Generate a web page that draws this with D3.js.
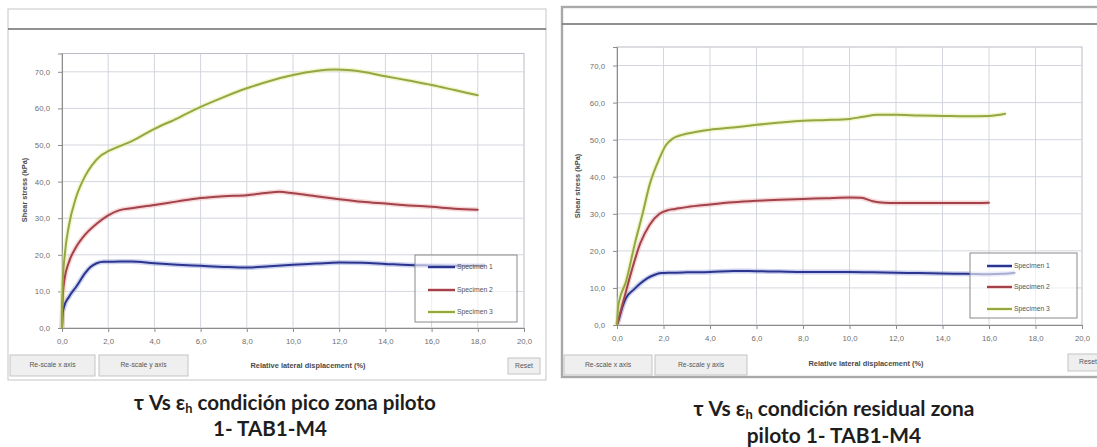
<!DOCTYPE html>
<html>
<head>
<meta charset="utf-8">
<script src="https://cdn.jsdelivr.net/npm/d3@7"></script>
<style>
  html, body { margin: 0; padding: 0; background: #fff; }
  svg { display: block; }
</style>
</head>
<body>
<svg id="fig" width="1097" height="447"></svg>
<script>
// ---- data ----
const xTickValues = [0, 2, 4, 6, 8, 10, 12, 14, 16, 18, 20];
const yTickValues = [0, 10, 20, 30, 40, 50, 60, 70];
const specimenNames = ["Specimen 1", "Specimen 2", "Specimen 3"];
const buttonLabels = ["Re-scale x axis", "Re-scale y axis", "Reset"];
const xAxisTitle = "Relative lateral displacement (%)";
const yAxisTitle = "Shear stress (kPa)";

// peak condition: [displacement %, shear stress kPa]
const peakSpecimen1 = [[0,0],[0.03,4],[0.1,6],[0.3,8.5],[0.63,11.4],[1.0,15],[1.22,16.6],[1.5,17.7],[1.8,18.1],[2,18.1],[3,18.2],[4,17.7],[5,17.3],[6,17.0],[7,16.7],[8,16.5],[9,16.9],[10,17.3],[11,17.6],[12,17.9],[13,17.8],[14,17.5],[15,17.2],[16,17.1],[17,17.0],[18.3,17.1]];
const peakSpecimen2 = [[0,0],[0.03,8],[0.1,13],[0.3,18],[0.6,22],[1.0,25.5],[1.5,28.5],[2,30.8],[2.5,32.2],[3,32.7],[4,33.6],[5,34.6],[6,35.5],[7,36.0],[8,36.3],[9,37.0],[9.4,37.2],[10,36.8],[11,36.0],[12,35.2],[13,34.5],[14,34.0],[15,33.5],[16,33.1],[17,32.6],[18,32.3]];
const peakSpecimen3 = [[0,0],[0.03,12],[0.12,20],[0.3,28],[0.6,35.5],[1.0,41.5],[1.3,44.5],[1.7,47.2],[2,48.3],[2.5,49.7],[3,51],[4,54.4],[5,57.3],[6,60.4],[7,63.1],[8,65.5],[9,67.5],[10,69.1],[11,70.2],[11.8,70.6],[12.5,70.4],[13,70.0],[14,68.8],[15,67.6],[16,66.4],[17,65.0],[18,63.6]];

// residual condition
const residualSpecimen1 = [[0,0],[0.1,2],[0.24,5],[0.38,7.2],[0.73,9.6],[1.0,11.2],[1.3,12.6],[1.6,13.5],[1.9,14.0],[2.3,14.1],[3,14.2],[4,14.3],[5,14.6],[6,14.5],[7,14.4],[8,14.3],[9,14.3],[10,14.3],[11,14.2],[12,14.1],[13,14.0],[14,13.9],[15,13.8],[16,13.7],[16.6,13.8],[17.1,14.1]];
const residualSpecimen2 = [[0,0],[0.3,7],[0.6,14],[1.0,22],[1.4,27],[1.83,30],[2.2,31],[2.5,31.3],[3,31.8],[4,32.5],[5,33.1],[6,33.5],[7,33.8],[8,34.0],[9,34.2],[10,34.4],[10.5,34.3],[11,33.4],[11.5,33.0],[12,32.9],[13,32.9],[14,32.9],[15,32.9],[16,33.0]];
const residualSpecimen3 = [[0,0],[0.05,5],[0.4,12],[0.77,22],[1.1,30],[1.41,38],[1.83,45],[2.1,48.5],[2.4,50.3],[2.8,51.3],[3.5,52.2],[4,52.7],[5,53.3],[6,54.0],[7,54.6],[8,55.1],[9,55.3],[10,55.6],[10.6,56.2],[11.2,56.7],[12,56.7],[13,56.5],[14,56.4],[15,56.3],[16,56.4],[16.7,57.0]];

// captions: [text, isSubscript] runs per line
const peakCaption = [
  [["τ Vs ε", false], ["h", true], [" condición pico zona piloto", false]],
  [["1- TAB1-M4", false]]
];
const residualCaption = [
  [["τ Vs ε", false], ["h", true], [" condición residual zona", false]],
  [["piloto 1- TAB1-M4", false]]
];

// ---- styling ----
const seriesColors = ["#2b3590", "#a3424a", "#93a843"];
const haloColors = ["#8e9ad8", "#eaa8ab", "#e4ee9a"];
const fmt = d => d.toFixed(1).replace(".", ",");
const uiFont = "Liberation Sans, Arial, sans-serif";

const svg = d3.select("#fig");

function drawPanel(cfg, series, caption) {
  const g = svg.append("g");

  // outer frame
  g.append("rect")
    .attr("x", cfg.frame.x).attr("y", cfg.frame.y)
    .attr("width", cfg.frame.w).attr("height", cfg.frame.h)
    .attr("fill", "#fff").attr("stroke", cfg.frameStroke).attr("stroke-width", cfg.frameWidth);
  g.append("line")
    .attr("x1", cfg.frame.x).attr("x2", cfg.frame.x + cfg.frame.w)
    .attr("y1", cfg.headerY).attr("y2", cfg.headerY)
    .attr("stroke", "#6d6d6d").attr("stroke-width", 1.6);

  const x = d3.scaleLinear().domain([0, 20]).range([cfg.plot.x0, cfg.plot.x1]);
  const y = d3.scaleLinear().domain([0, 75]).range([cfg.plot.y0, cfg.plot.yTop]);

  // plot background + grid
  g.append("rect")
    .attr("x", x(0)).attr("y", y(75))
    .attr("width", x(20) - x(0)).attr("height", y(0) - y(75))
    .attr("fill", "#fff").attr("stroke", "#b9bcc4").attr("stroke-width", 1);

  g.append("g").selectAll("line").data(xTickValues.filter(d => d > 0 && d < 20)).join("line")
    .attr("x1", d => x(d)).attr("x2", d => x(d))
    .attr("y1", y(75)).attr("y2", y(0))
    .attr("stroke", "#d3d6de").attr("stroke-width", 1);
  g.append("g").selectAll("line").data(yTickValues.filter(d => d > 0)).join("line")
    .attr("x1", x(0)).attr("x2", x(20))
    .attr("y1", d => y(d)).attr("y2", d => y(d))
    .attr("stroke", "#d3d6de").attr("stroke-width", 1);

  // axes
  const xAxis = d3.axisBottom(x).tickValues(xTickValues).tickFormat(fmt).tickSize(4).tickPadding(6);
  const yAxis = d3.axisLeft(y).tickValues(yTickValues).tickFormat(fmt).tickSize(4).tickPadding(8);
  const gx = g.append("g").attr("transform", `translate(0,${y(0)})`).call(xAxis);
  const gy = g.append("g").attr("transform", `translate(${x(0)},0)`).call(yAxis);
  [gx, gy].forEach(a => {
    a.select(".domain").attr("stroke", "#8c8c8c");
    a.selectAll(".tick line").attr("stroke", "#8c8c8c");
    a.selectAll(".tick text").attr("fill", "#6f6f6f")
      .attr("font-family", uiFont).attr("font-size", 7.8);
  });

  // axis titles
  g.append("text").attr("x", cfg.xTitle.x).attr("y", cfg.xTitle.y)
    .attr("text-anchor", "middle").attr("dominant-baseline", "middle")
    .attr("font-family", uiFont).attr("font-size", 7.4)
    .attr("font-weight", "bold").attr("fill", "#4a4a4a").text(xAxisTitle);
  g.append("text")
    .attr("transform", `translate(${cfg.yTitle.x},${cfg.yTitle.y}) rotate(-90)`)
    .attr("text-anchor", "middle").attr("dominant-baseline", "middle")
    .attr("font-family", uiFont).attr("font-size", 7.4)
    .attr("font-weight", "bold").attr("fill", "#4a4a4a").text(yAxisTitle);

  // series
  const line = d3.line().x(d => x(d[0])).y(d => y(d[1])).curve(d3.curveMonotoneX);
  series.forEach((s, i) => {
    g.append("path").datum(s).attr("d", line)
      .attr("fill", "none").attr("stroke", haloColors[i]).attr("stroke-width", 5)
      .attr("stroke-opacity", 0.45).attr("stroke-linejoin", "round");
  });
  series.forEach((s, i) => {
    g.append("path").datum(s).attr("d", line)
      .attr("fill", "none").attr("stroke", seriesColors[i]).attr("stroke-width", 2)
      .attr("stroke-linejoin", "round").attr("stroke-linecap", "round");
  });

  // legend
  const L = cfg.legend;
  g.append("rect").attr("x", L.x).attr("y", L.y).attr("width", L.w).attr("height", L.h)
    .attr("fill", "#fff").attr("fill-opacity", 0.6).attr("stroke", "#8a8a8a").attr("stroke-width", 1);
  specimenNames.forEach((name, i) => {
    const yy = L.rows[i];
    g.append("line").attr("x1", L.lx0).attr("x2", L.lx1).attr("y1", yy).attr("y2", yy)
      .attr("stroke", haloColors[i]).attr("stroke-width", 4).attr("stroke-opacity", 0.5);
    g.append("line").attr("x1", L.lx0).attr("x2", L.lx1).attr("y1", yy).attr("y2", yy)
      .attr("stroke", seriesColors[i]).attr("stroke-width", 2);
    g.append("text").attr("x", L.lx1 + 2).attr("y", yy).attr("dominant-baseline", "middle")
      .attr("font-family", uiFont).attr("font-size", 6.8)
      .attr("fill", "#555").text(name);
  });

  // buttons
  cfg.buttons.forEach((b, i) => {
    g.append("rect").attr("x", b.x).attr("y", b.y).attr("width", b.w).attr("height", b.h)
      .attr("fill", "#efefef").attr("stroke", "#c4c4c4").attr("stroke-width", 1);
    g.append("text").attr("x", b.x + b.w / 2).attr("y", b.y + b.h / 2)
      .attr("text-anchor", "middle").attr("dominant-baseline", "middle")
      .attr("font-family", uiFont).attr("font-size", 6.8)
      .attr("fill", "#555").text(buttonLabels[i]);
  });

  // caption below the panel; the first line is sized to its measured width
  const captionNodes = caption.map((runs, li) => {
    const t = svg.append("text").attr("x", cfg.caption[li].cx).attr("y", cfg.caption[li].y)
      .attr("text-anchor", "middle")
      .attr("font-family", "Lato, Open Sans, sans-serif").attr("font-weight", 700)
      .attr("font-size", 20).attr("fill", "#1e1e1e");
    runs.forEach(([txt, sub], ri) => {
      const ts = t.append("tspan").text(txt);
      if (sub) ts.attr("font-size", "0.62em").attr("dy", "0.25em");
      else if (ri > 0) ts.attr("dy", "-0.155em");
    });
    return t;
  });
  const w0 = captionNodes[0].node().getComputedTextLength();
  const size = 20 * cfg.captionWidth / w0;
  captionNodes.forEach(t => t.attr("font-size", size));
}

drawPanel({
  frame: { x: 8, y: 9, w: 538, h: 371 }, frameStroke: "#cfcfcf", frameWidth: 1.2,
  headerY: 29,
  plot: { x0: 62, x1: 524, yTop: 53.5, y0: 328 },
  legend: { x: 415, y: 255, w: 102, h: 67, rows: [267, 290, 312], lx0: 428, lx1: 455 },
  buttons: [{ x: 10, y: 355, w: 85, h: 21 }, { x: 99, y: 355, w: 89, h: 21 }, { x: 508, y: 358, w: 32, h: 16 }],
  xTitle: { x: 308, y: 366 },
  yTitle: { x: 25, y: 190 },
  caption: [{ cx: 285, y: 410 }, { cx: 270, y: 436 }],
  captionWidth: 302
}, [peakSpecimen1, peakSpecimen2, peakSpecimen3], peakCaption);

drawPanel({
  frame: { x: 562, y: 7, w: 545, h: 370 }, frameStroke: "#a9a9a9", frameWidth: 2.4,
  headerY: 24,
  plot: { x0: 617, x1: 1082, yTop: 47, y0: 325 },
  legend: { x: 970, y: 253, w: 107, h: 65, rows: [266, 287, 309], lx0: 987, lx1: 1012 },
  buttons: [{ x: 564, y: 355, w: 88, h: 20 }, { x: 655, y: 355, w: 92, h: 20 }, { x: 1068, y: 354, w: 40, h: 17 }],
  xTitle: { x: 866, y: 364 },
  yTitle: { x: 578, y: 186 },
  caption: [{ cx: 834, y: 416 }, { cx: 834, y: 443 }],
  captionWidth: 281
}, [residualSpecimen1, residualSpecimen2, residualSpecimen3], residualCaption);
</script>
</body>
</html>
